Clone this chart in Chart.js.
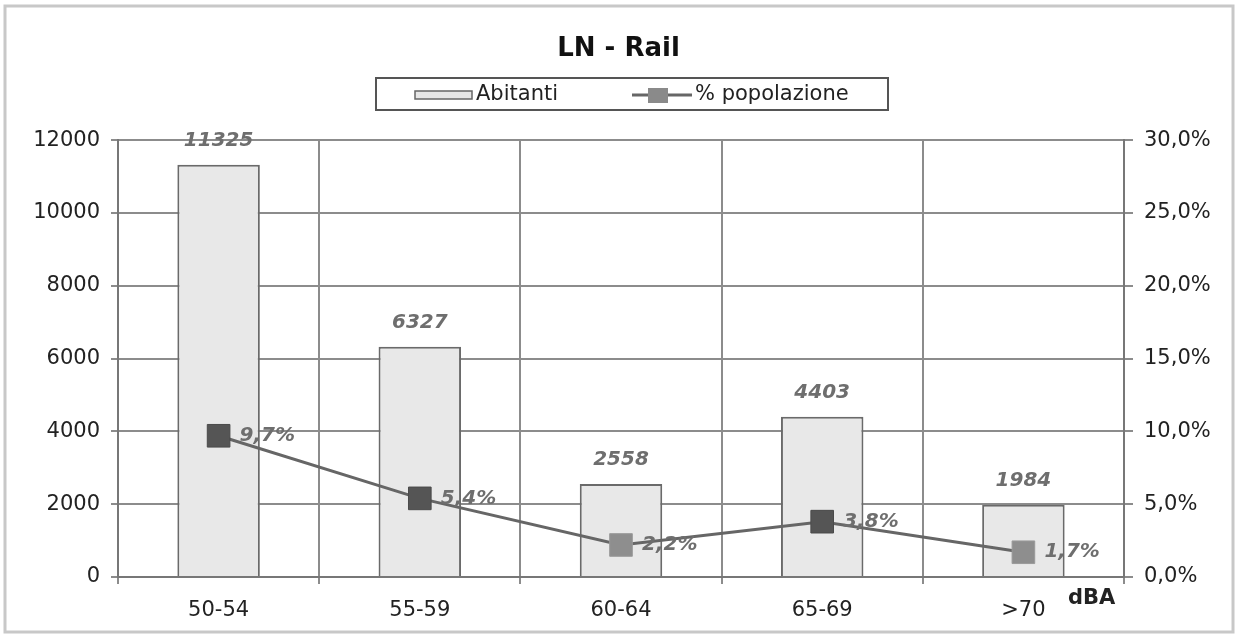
<!DOCTYPE html>
<html><head><meta charset="utf-8">
<script src="https://cdn.jsdelivr.net/npm/chart.js@4.4.0/dist/chart.umd.min.js"></script>
<style>html,body{margin:0;padding:0;background:#fff}#wrap{width:1237px;height:644px;position:relative}</style>
</head><body><div id="wrap"><canvas id="c"></canvas></div>
<script>
// ---- data ----
const categories = ['50-54', '55-59', '60-64', '65-69', '>70'];
const abitanti = [11325, 6327, 2558, 4403, 1984];
const popolazionePct = [9.7, 5.4, 2.2, 3.8, 1.7];
const leftTickValues = [0, 2000, 4000, 6000, 8000, 10000, 12000];
const rightTickValues = [0, 5, 10, 15, 20, 25, 30];
const chartTitle = 'LN - Rail';
const seriesNames = ['Abitanti', '% popolazione'];
const xUnit = 'dBA';

const FONT = '"DejaVu Sans", sans-serif';
Chart.defaults.font.family = FONT;
const pct = v => v.toFixed(1).replace('.', ',') + '%';

const framePlugin = {
  id: 'frame',
  beforeDraw(chart) {
    const c = chart.ctx;
    c.save();
    c.fillStyle = '#fff';
    c.fillRect(0, 0, chart.width, chart.height);
    c.strokeStyle = '#c8c8c8';
    c.lineWidth = 3;
    c.strokeRect(5, 6, 1228, 626);
    c.restore();
  }
};

const labelPlugin = {
  id: 'valueLabels',
  afterDatasetsDraw(chart) {
    const c = chart.ctx;
    c.save();
    c.font = 'italic bold 20px ' + FONT;
    c.fillStyle = '#6e6e6e';
    c.textBaseline = 'middle';
    const barMeta = chart.getDatasetMeta(1);
    c.textAlign = 'center';
    barMeta.data.forEach((el, i) => {
      c.fillText(String(abitanti[i]), el.x, el.y - 24);
    });
    const lineMeta = chart.getDatasetMeta(0);
    c.textAlign = 'left';
    lineMeta.data.forEach((el, i) => {
      c.fillText(pct(popolazionePct[i]), el.x + 21, el.y);
    });
    c.restore();
  }
};

const legendPlugin = {
  id: 'boxLegend',
  afterDraw(chart) {
    const c = chart.ctx;
    c.save();
    c.strokeStyle = '#555';
    c.lineWidth = 2;
    c.strokeRect(376, 78, 512, 32);
    // bar item
    c.fillStyle = '#e6e6e6';
    c.fillRect(415, 91, 57, 8);
    c.strokeStyle = '#666';
    c.lineWidth = 1.5;
    c.strokeRect(415, 91, 57, 8);
    c.font = '21px ' + FONT;
    c.fillStyle = '#222';
    c.textBaseline = 'middle';
    c.textAlign = 'left';
    c.fillText(chart.data.datasets[1].label, 476, 95);
    // line item
    c.strokeStyle = '#666';
    c.lineWidth = 3;
    c.beginPath(); c.moveTo(632, 95); c.lineTo(692, 95); c.stroke();
    c.fillStyle = '#8a8a8a';
    c.fillRect(648, 88, 20, 15);
    c.fillStyle = '#222';
    c.fillText(chart.data.datasets[0].label, 695, 95);
    // axis unit
    c.font = 'bold 21px ' + FONT;
    c.fillText(xUnit, 1068, 599);
    c.restore();
  }
};

new Chart(document.getElementById('c'), {
  type: 'bar',
  data: {
    labels: categories,
    datasets: [
      {
        type: 'line',
        label: seriesNames[1],
        data: popolazionePct,
        yAxisID: 'y1',
        order: 0,
        borderColor: '#666',
        borderWidth: 3,
        pointStyle: 'rect',
        pointRadius: 16,
        pointBackgroundColor: ['#555', '#555', '#8e8e8e', '#555', '#8e8e8e'],
        pointBorderColor: ['#4a4a4a', '#4a4a4a', '#9a9a9a', '#4a4a4a', '#9a9a9a'],
        pointBorderWidth: 1,
        tension: 0,
        fill: false
      },
      {
        type: 'bar',
        label: seriesNames[0],
        data: abitanti,
        yAxisID: 'y',
        order: 1,
        backgroundColor: '#e8e8e8',
        borderColor: '#6a6a6a',
        borderWidth: 2,
        categoryPercentage: 1,
        barPercentage: 0.41
      }
    ]
  },
  options: {
    responsive: true,
    maintainAspectRatio: false,
    animation: false,
    layout: { padding: { left: 10, right: 10, top: 10, bottom: 10 } },
    plugins: {
      legend: { display: false },
      tooltip: { enabled: false },
      title: {
        display: true,
        text: chartTitle,
        color: '#111',
        font: { size: 26, weight: 'bold', family: FONT },
        padding: { top: 24, bottom: 75 }
      }
    },
    scales: {
      x: {
        offset: true,
        grid: { offset: true, color: '#8c8c8c', lineWidth: 2, tickLength: 7, drawTicks: true },
        border: { color: '#777', width: 2 },
        ticks: { color: '#222', font: { size: 21 }, padding: 14 },
        afterFit(s) { s.height = 57; }
      },
      y: {
        position: 'left',
        min: 0, max: 12000,
        afterBuildTicks(s) { s.ticks = leftTickValues.map(v => ({ value: v })); },
        grid: { color: '#8c8c8c', lineWidth: 2, tickLength: 7 },
        border: { color: '#777', width: 2 },
        ticks: { color: '#222', font: { size: 21 }, padding: 11, callback: v => String(v) },
        afterFit(s) { s.width = 108; }
      },
      y1: {
        position: 'right',
        min: 0, max: 30,
        afterBuildTicks(s) { s.ticks = rightTickValues.map(v => ({ value: v })); },
        grid: { drawOnChartArea: false, color: '#8c8c8c', lineWidth: 2, tickLength: 9 },
        border: { color: '#777', width: 2 },
        ticks: { color: '#222', font: { size: 21 }, padding: 11, callback: v => pct(v) },
        afterFit(s) { s.width = 103; }
      }
    }
  },
  plugins: [framePlugin, labelPlugin, legendPlugin]
});
</script>
</body></html>
